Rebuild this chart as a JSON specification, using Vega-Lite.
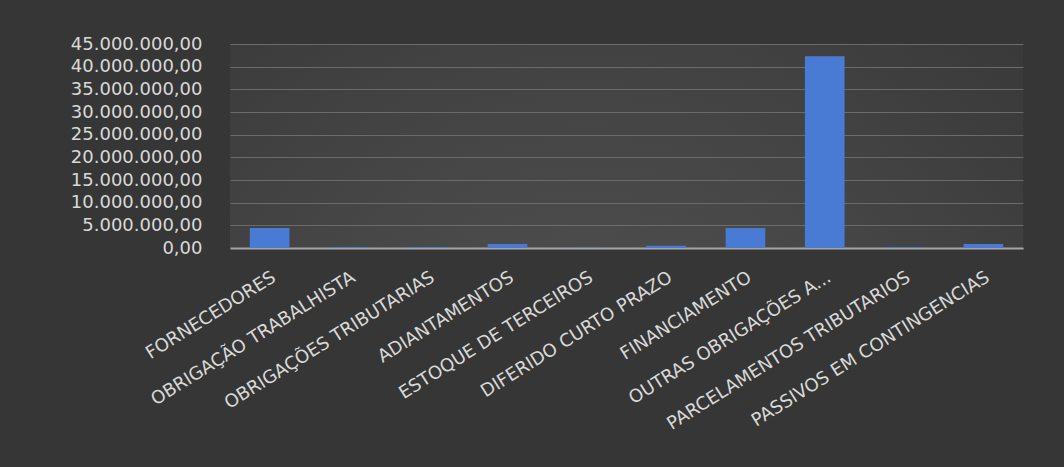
{
  "$schema": "https://vega.github.io/schema/vega-lite/v6.json",
  "width": 793,
  "height": 204,
  "autosize": {"type": "none"},
  "padding": {"left": 230, "top": 44, "right": 41, "bottom": 219},
  "background": "#363636",
  "config": {
    "locale": {"number": {"decimal": ",", "thousands": ".", "grouping": [3], "currency": ["R$ ", ""]}},
    "view": {"stroke": null, "fill": {"gradient": "radial", "x1": 0.45, "y1": 0.9, "r1": 0, "x2": 0.45, "y2": 0.9, "r2": 0.75, "stops": [{"offset": 0, "color": "#555555"}, {"offset": 1, "color": "#3a3a3a"}]}},
    "font": "DejaVu Sans",
    "axis": {"labelFont": "DejaVu Sans", "labelColor": "#d9d9d9", "labelFontSize": 18, "ticks": false, "title": null}
  },
  "data": {
    "values": [
      {"conta": "FORNECEDORES", "valor": 4400000},
      {"conta": "OBRIGAÇÃO TRABALHISTA", "valor": 150000},
      {"conta": "OBRIGAÇÕES TRIBUTARIAS", "valor": 150000},
      {"conta": "ADIANTAMENTOS", "valor": 900000},
      {"conta": "ESTOQUE DE TERCEIROS", "valor": 30000},
      {"conta": "DIFERIDO CURTO PRAZO", "valor": 500000},
      {"conta": "FINANCIAMENTO", "valor": 4400000},
      {"conta": "OUTRAS OBRIGAÇÕES A...", "valor": 42300000},
      {"conta": "PARCELAMENTOS TRIBUTARIOS", "valor": 150000},
      {"conta": "PASSIVOS EM CONTINGENCIAS", "valor": 900000}
    ]
  },
  "mark": {"type": "bar", "color": "#4a7bd4"},
  "encoding": {
    "x": {
      "field": "conta",
      "type": "nominal",
      "sort": null,
      "scale": {"paddingInner": 0.5, "paddingOuter": 0.25},
      "axis": {"labelAngle": -32, "labelPadding": 20, "domainColor": "#a6a6a6", "domainWidth": 2, "grid": false, "labelLimit": 400}
    },
    "y": {
      "field": "valor",
      "type": "quantitative",
      "scale": {"domain": [0, 45000000], "nice": false},
      "axis": {"values": [0, 5000000, 10000000, 15000000, 20000000, 25000000, 30000000, 35000000, 40000000, 45000000], "format": ",.2f", "labelPadding": 28, "domain": false, "grid": true, "gridColor": "#6b6b6b", "gridWidth": 1}
    }
  }
}
